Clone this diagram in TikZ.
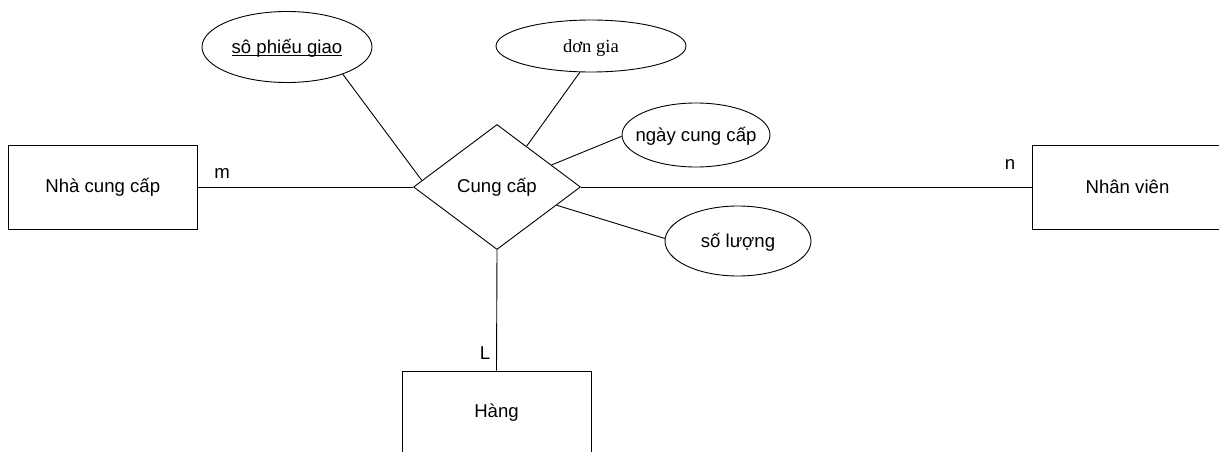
\documentclass[tikz,border=0pt]{standalone}
\usepackage{fontspec}
\setmainfont{Liberation Sans}
\newfontfamily\serifface{Liberation Serif}
\usetikzlibrary{shapes.geometric}
% text that does not enlarge its node; baseline set so the glyphs sit centred
\newcommand\inbox[1]{\raisebox{-0.35em}[0pt][0pt]{\makebox[0pt]{#1}}}
% underlined key attribute
\newcommand\keyattr[1]{\setbox0\hbox{#1}\rlap{\rule[-2.6pt]{\wd0}{0.9pt}}\box0}
\begin{document}
\begin{tikzpicture}[x=1pt,y=-1pt,line width=0.9pt,
  every node/.style={font=\fontsize{18.6}{22}\selectfont},
  entity/.style={draw,rectangle,minimum width=189pt,minimum height=84pt,inner sep=0pt},
  attr/.style={draw,ellipse,inner sep=0pt},
  relation/.style={draw,diamond,minimum width=167pt,minimum height=125pt,inner sep=0pt},
  card/.style={inner sep=0pt}]
\useasboundingbox (0,0) rectangle (1219,452);
\clip (0,0) rectangle (1219,452);

% entities
\node[entity] (ncc) at (102.8,187) {Nhà cung cấp};
\node[entity,minimum width=191pt] (nv) at (1127.5,187) {Nhân viên};
\node[entity] (hang) at (496.5,413) {Hàng};

% relationship
\node[relation] (cc) at (497,187) {Cung cấp};

% attributes
\node[attr,minimum width=170pt,minimum height=71pt] (spg) at (287,47) {\inbox{\keyattr{sô phiếu giao}}};
\node[attr,minimum width=190pt,minimum height=52pt,font=\serifface\fontsize{18.6}{22}\selectfont] (dg) at (591,46) {\inbox{dơn gia}};
\node[attr,minimum width=148pt,minimum height=64pt] (ncap) at (696,135) {\inbox{ngày cung cấp}};
\node[attr,minimum width=146pt,minimum height=70pt] (sl) at (738,241) {\inbox{số lượng}};

% cardinalities
\node[card] (m) at (222,173) {m};
\node[card] (n) at (1010,164) {n};
\node[card] (L) at (485,353) {L};

% connectors
\draw (ncc.east) -- (cc.west);
\draw (cc.east) -- (nv.west);
\draw (cc.south) -- (hang.north);
\draw (spg.-26) -- (cc.175);
\draw (dg.247.6) -- (cc.54.5);
\draw (ncap.181) -- (cc.22.7);
\draw (sl.178.4) -- (cc.-17.8);
\end{tikzpicture}
\end{document}
